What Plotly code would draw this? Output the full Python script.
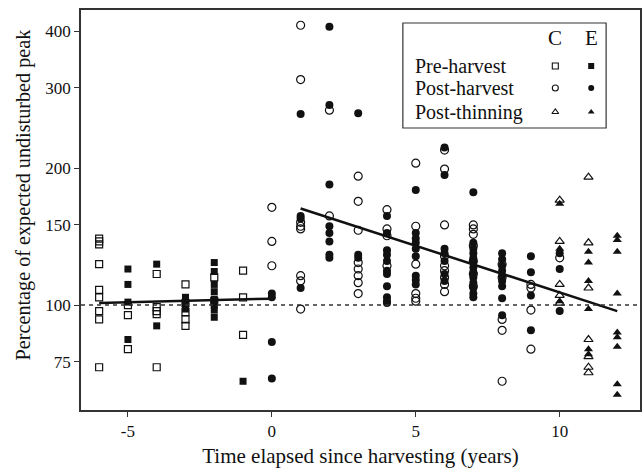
import math
import plotly.graph_objects as go

# ---------------- data ----------------
# Pre-harvest, control (open squares)
pre_c_x = [-6]*9 + [-5]*3 + [-4]*5 + [-3]*5 + [-2]*2 + [-1]*3
pre_c_y = [140, 138, 136, 123, 108, 104, 97, 93, 73,
           100, 95, 80,
           117, 99, 97, 95.5, 73,
           111, 101, 96.5, 93, 90,
           115, 102,
           119, 104, 86]
# Pre-harvest, experimental (filled squares)
pre_e_x = [-5]*4 + [-4]*2 + [-3]*5 + [-2]*8 + [-1]*1
pre_e_y = [120, 111, 101.5, 84,
           123, 90,
           104, 102.5, 101, 99.5, 98,
           124, 118.5, 111, 107, 103, 100, 97.5, 94,
           68]
# Post-harvest, control (open circles)
post_c_x = [0]*3 + [1]*8 + [2]*2 + [3]*8 + [4]*4 + [5]*6 + [6]*9 + [7]*7 + [8]*5 + [9]*4 + [10]*1
post_c_y = [164, 138, 122,
            412, 313, 152, 149, 147, 116, 113, 98,
            268, 157,
            192, 169, 146, 124, 120, 116, 112, 106,
            162, 147, 142, 122,
            205, 149, 123, 106, 103.5, 102,
            219, 199, 150, 128, 122, 119, 115, 111, 107,
            150, 147, 143, 135, 125, 117, 110,
            123, 115, 93, 88, 68,
            111, 109, 97.5, 80,
            127]
# Post-harvest, experimental (filled circles)
post_e_x = [0]*4 + [1]*4 + [2]*8 + [3]*3 + [4]*11 + [5]*9 + [6]*7 + [7]*13 + [8]*9 + [9]*4 + [10]*3
post_e_y = [106, 104, 83, 69,
            263, 157, 155, 109,
            409, 275, 184, 149, 144, 138, 129, 127,
            264, 129, 127,
            157, 144, 132, 129, 125, 119, 117, 110, 104, 102, 101,
            179, 144, 140, 137, 133, 128, 116, 113.5, 111,
            222, 193, 133, 130, 125, 117, 113,
            177, 137, 133, 130, 127, 124, 121, 118, 115, 112, 109, 106, 104,
            130, 126, 122, 119, 116, 113, 110, 103.5, 95,
            128, 118, 105, 88,
            130, 120, 97]
# Post-thinning, control (open triangles)
thin_c_x = [10]*5 + [11]*7
thin_c_y = [170, 138, 111, 105, 101,
            191, 137, 109, 84, 77, 73, 71]
# Post-thinning, experimental (filled triangles)
thin_e_x = [10]*3 + [11]*6 + [12]*9
thin_e_y = [167, 133, 102,
            131, 124, 113, 98, 80, 78,
            142, 139, 131, 106, 87, 85, 81, 67, 63.5]

# fitted trend lines (endpoints)
pre_fit_x = [-6, 0]
pre_fit_y = [101, 103.3]
post_fit_x = [1, 12]
post_fit_y = [163, 97]

ref_level = 100
x_ticks = [-5, 0, 5, 10]
y_ticks = [75, 100, 150, 200, 300, 400]
legend_rows = ["Pre-harvest", "Post-harvest", "Post-thinning"]
legend_cols = ["C", "E"]
x_title = "Time elapsed since harvesting (years)"
y_title = "Percentage of expected undisturbed peak"

FONT = "Liberation Serif, Times New Roman, serif"
INK = "#111111"

fig = go.Figure()

def add_pts(xs, ys, sym, size, lw=1.2):
    fig.add_trace(go.Scatter(
        x=xs, y=ys, mode="markers", showlegend=False, hoverinfo="skip",
        marker=dict(symbol=sym, size=size, color=INK, line=dict(width=lw, color=INK))))

add_pts(pre_c_x, pre_c_y, "square-open", 7)
add_pts(post_c_x, post_c_y, "circle-open", 8)
add_pts(thin_c_x, thin_c_y, "triangle-up-open", 8)
add_pts(pre_e_x, pre_e_y, "square", 7, 0)
add_pts(post_e_x, post_e_y, "circle", 8, 0)
add_pts(thin_e_x, thin_e_y, "triangle-up", 8, 0)

# trend lines
for fx, fy in [(pre_fit_x, pre_fit_y), (post_fit_x, post_fit_y)]:
    fig.add_trace(go.Scatter(x=fx, y=fy, mode="lines", showlegend=False,
                             hoverinfo="skip", line=dict(color=INK, width=2.5)))

# reference line at 100
fig.add_shape(type="line", xref="paper", x0=0, x1=1, yref="y", y0=ref_level, y1=ref_level,
              line=dict(color="#333333", width=1.5, dash="4px,4px"))

# ---- custom legend (overlay axes in paper-like units) ----
lx0, lx1, ly0, ly1 = 0.5758, 0.9394, 0.705, 0.9675
fig.add_shape(type="rect", xref="paper", yref="paper", x0=lx0, x1=lx1, y0=ly0, y1=ly1,
              line=dict(color="#333333", width=1.2), fillcolor="rgba(0,0,0,0)", layer="above")
col_x = [0.8485, 0.9127]
row_y = [0.86, 0.805, 0.745]
for cx, lab in zip(col_x, legend_cols):
    fig.add_annotation(x=cx, y=0.93, xref="paper", yref="paper", text=lab, showarrow=False,
                       font=dict(family=FONT, size=21, color=INK), xanchor="center", yanchor="middle")
for ry, lab in zip(row_y, legend_rows):
    fig.add_annotation(x=0.5936, y=ry, xref="paper", yref="paper", text=lab, showarrow=False,
                       font=dict(family=FONT, size=20, color=INK), xanchor="left", yanchor="middle")
leg_syms = [("square-open", "square"), ("circle-open", "circle"), ("triangle-up-open", "triangle-up")]
for ry, (so, sf) in zip(row_y, leg_syms):
    fig.add_trace(go.Scatter(x=[col_x[0]], y=[ry], xaxis="x2", yaxis="y2", mode="markers",
                             showlegend=False, hoverinfo="skip",
                             marker=dict(symbol=so, size=6, color=INK, line=dict(width=1.1, color=INK))))
    fig.add_trace(go.Scatter(x=[col_x[1]], y=[ry], xaxis="x2", yaxis="y2", mode="markers",
                             showlegend=False, hoverinfo="skip",
                             marker=dict(symbol=sf, size=6, color=INK, line=dict(width=0))))

# y-axis title as annotation (positioned as in the reference, slightly above centre)
fig.add_annotation(x=-0.103, y=0.54, xref="paper", yref="paper", text=y_title,
                   textangle=-90, showarrow=False, xanchor="center", yanchor="middle",
                   font=dict(family=FONT, size=20.2, color=INK))

axis_common = dict(showline=True, mirror=True, linecolor="#333333", linewidth=1.5,
                   ticks="outside", ticklen=5, tickwidth=1.2, tickcolor="#333333",
                   showgrid=False, zeroline=False,
                   tickfont=dict(family=FONT, size=17, color=INK))

fig.update_layout(
    width=644, height=473,
    margin=dict(l=81, r=2, t=10, b=63),
    paper_bgcolor="white", plot_bgcolor="white",
    font=dict(family=FONT, color=INK),
    xaxis=dict(range=[-6.63, 12.79], tickvals=x_ticks, ticktext=[str(v) for v in x_ticks],
               title=dict(text=x_title, font=dict(family=FONT, size=21, color=INK), standoff=8),
               **axis_common),
    yaxis=dict(type="log", range=[math.log10(58.8), math.log10(445)],
               tickvals=y_ticks, ticktext=[str(v) for v in y_ticks],
               **axis_common),
    xaxis2=dict(overlaying="x", range=[0, 1], visible=False, fixedrange=True),
    yaxis2=dict(overlaying="y", range=[0, 1], visible=False, fixedrange=True),
)

fig.write_html("out.html", config={"displayModeBar": False},
               post_script="document.body.style.margin='0';document.body.style.overflow='hidden';")
